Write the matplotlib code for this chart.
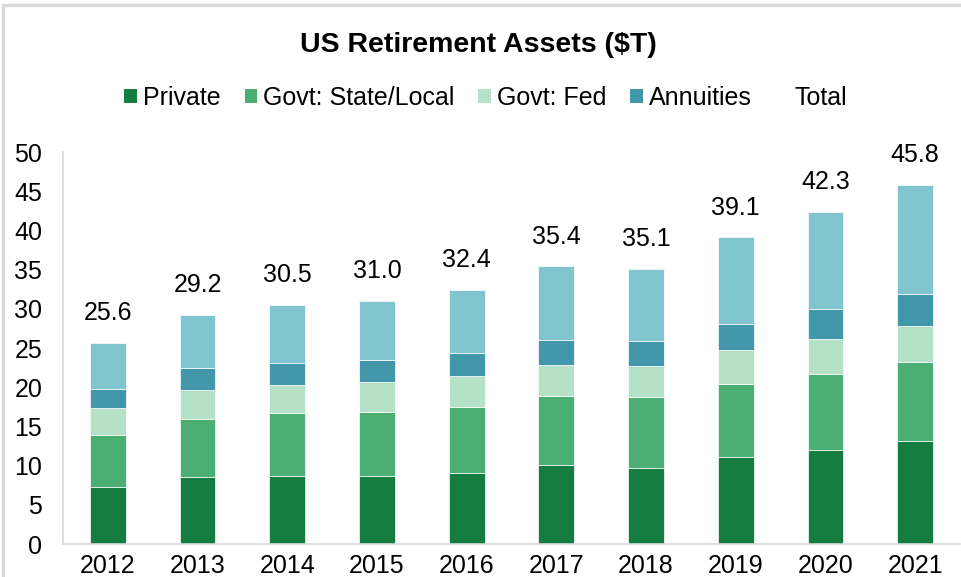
import numpy as np
import matplotlib
matplotlib.use("Agg")
import matplotlib.pyplot as plt
from matplotlib.patches import Patch, Rectangle

# ----------- DATA ($T) -----------
years = ["2012", "2013", "2014", "2015", "2016", "2017", "2018", "2019", "2020", "2021"]
private = [7.3, 8.5, 8.7, 8.7, 9.1, 10.1, 9.7, 11.1, 12.0, 13.2]
state_local = [6.6, 7.5, 8.0, 8.1, 8.4, 8.8, 9.05, 9.3, 9.7, 10.0]
fed = [3.4, 3.6, 3.6, 3.8, 3.9, 3.9, 3.95, 4.3, 4.4, 4.6]
annuities = [2.5, 2.8, 2.8, 2.9, 3.0, 3.2, 3.2, 3.4, 3.9, 4.1]
iras = [5.8, 6.8, 7.4, 7.5, 8.0, 9.4, 9.2, 11.0, 12.3, 13.9]
totals = [25.6, 29.2, 30.5, 31.0, 32.4, 35.4, 35.1, 39.1, 42.3, 45.8]

# ----------- STYLE -----------
plt.rcParams['font.family'] = ['Liberation Sans', 'DejaVu Sans']
FS = 18
COLORS = ["#157D3F", "#4BAE72", "#B5E1C6", "#4298AA", "#80C4CF"]
AXIS_GREY = "#D9D9D9"

fig = plt.figure(figsize=(9.62, 5.77), dpi=100)
ax = fig.add_axes([63 / 962, 1 - 544 / 577, (960 - 63) / 962, (544 - 152) / 577])

# ----------- STACKED BARS -----------
x = np.arange(len(years))
series = [private, state_local, fed, annuities, iras]
names = ["Private", "Govt: State/Local", "Govt: Fed", "Annuities", "_IRAs"]
bottom = np.zeros(len(years))
for vals, col, name in zip(series, COLORS, names):
    ax.bar(x, vals, width=0.4, bottom=bottom, color=col, edgecolor="white",
           linewidth=0.5, label=name)
    bottom += np.array(vals)

# total labels above bars
for xi, top, tot in zip(x, bottom, totals):
    ax.annotate(f"{tot:.1f}", (xi, top), xytext=(0, 16.5), textcoords="offset points",
                ha="center", va="baseline", fontsize=FS)

# ----------- AXES -----------
ax.set_xlim(-0.5, len(years) - 0.5)
ax.set_ylim(0, 50)
ax.set_yticks(range(0, 51, 5))
ax.set_xticks(x)
ax.set_xticklabels(years)
ax.tick_params(axis="both", length=0, labelsize=FS)
ax.tick_params(axis="y", pad=15)
ax.tick_params(axis="x", pad=7)
for side in ["top", "right"]:
    ax.spines[side].set_visible(False)
for side in ["left", "bottom"]:
    ax.spines[side].set_color(AXIS_GREY)
    ax.spines[side].set_linewidth(1.2)

# ----------- TITLE + LEGEND -----------
fig.text(0.497, 1 - 45 / 577, "US Retirement Assets ($T)", ha="center", va="center",
         fontsize=20.5, fontweight="bold")

handles = [Patch(facecolor=c) for c in COLORS[:4]]
handles.append(Patch(facecolor="none", edgecolor="none"))
labels = ["Private", "Govt: State/Local", "Govt: Fed", "Annuities", "Total"]
fig.legend(handles, labels, loc="center", bbox_to_anchor=(0.505, 1 - 98 / 577), ncol=5,
           frameon=False, fontsize=FS, handlelength=0.5, handleheight=0.5,
           handletextpad=0.25, columnspacing=0.95, borderpad=0)

# light chart border (top + left visible in the crop)
fig.patches.append(Rectangle((2.5 / 962, -0.1), 1.2, 1.1 - 4.5 / 577, transform=fig.transFigure,
                             fill=False, edgecolor=AXIS_GREY, linewidth=2.5))

fig.savefig("out.png", dpi=100)
